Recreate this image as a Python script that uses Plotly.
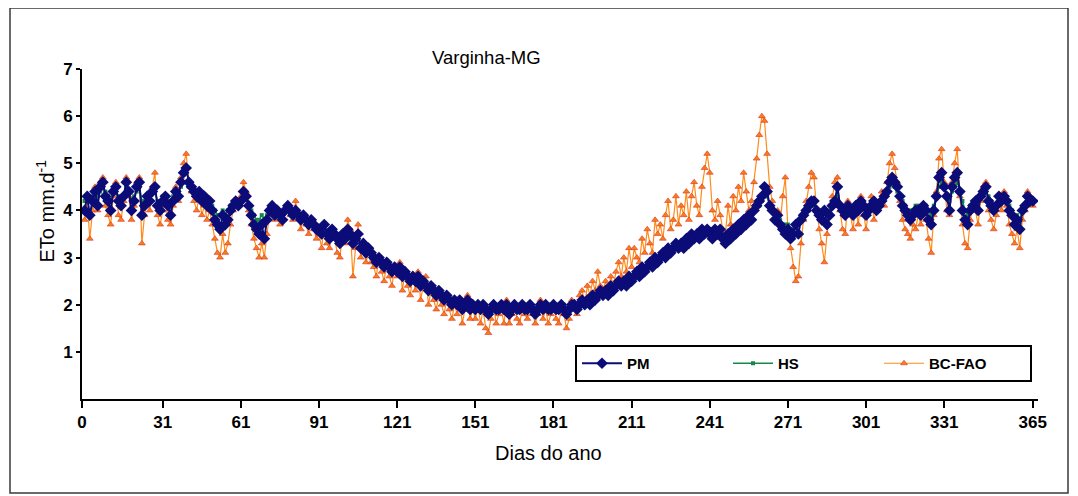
import plotly.graph_objects as go

# Daily reference evapotranspiration (mm/d), Varginha-MG, days 1..365
pm = [
    4.0, 4.3, 3.9, 4.2, 4.4, 4.1, 4.5, 4.6, 4.3, 4.2,
    4.0, 4.4, 4.5, 4.2, 4.1, 4.3, 4.6, 4.4, 4.0, 4.2,
    4.5, 4.6, 3.9, 4.1, 4.3, 4.2, 4.4, 4.5, 4.1, 4.0,
    4.2, 4.3, 4.1, 3.9, 4.2, 4.4, 4.3, 4.6, 4.8, 4.9,
    4.6, 4.5, 4.4, 4.3, 4.4, 4.2, 4.3, 4.1, 4.2, 4.0,
    3.8, 3.7, 3.6, 3.9, 3.7, 3.8, 4.0, 4.1, 4.2, 4.1,
    4.2, 4.4, 4.3, 4.1, 3.9, 3.7, 3.6, 3.5, 3.7, 3.4,
    3.8, 4.0, 4.1, 3.9, 4.0, 3.9, 3.8, 4.0, 4.1, 4.0,
    3.9, 4.0, 3.9, 3.8, 3.9, 3.8, 3.7, 3.8, 3.7, 3.6,
    3.6, 3.5, 3.7, 3.5, 3.4, 3.6, 3.5, 3.4, 3.3, 3.5,
    3.4, 3.6, 3.5, 3.3, 3.4, 3.5, 3.2, 3.3, 3.1, 3.2,
    3.1, 3.0, 2.9, 3.0, 2.9, 2.8, 2.9, 2.8, 2.7, 2.8,
    2.7, 2.8, 2.6, 2.7, 2.6, 2.5, 2.6, 2.5, 2.6, 2.4,
    2.5, 2.4, 2.3, 2.4, 2.3, 2.2, 2.3, 2.2, 2.1, 2.2,
    2.1, 2.0, 2.1, 2.0, 2.1, 1.9, 2.0, 2.1, 1.9, 2.0,
    1.9, 2.0, 1.9, 2.0, 1.9, 1.8, 1.9, 2.0, 1.9, 1.9,
    2.0, 1.9, 2.0, 1.8, 1.9, 2.0, 1.9, 1.9, 2.0, 1.9,
    1.9, 2.0, 1.9, 1.8, 1.9, 2.0, 1.9, 2.0, 1.9, 1.9,
    2.0, 1.9, 1.9, 2.0, 1.9, 1.8, 1.9, 2.0, 2.0, 1.9,
    2.0, 2.1, 2.0, 2.1, 2.0, 2.2, 2.1, 2.2, 2.3, 2.2,
    2.3, 2.2, 2.4, 2.3, 2.4, 2.5, 2.4, 2.5, 2.4, 2.6,
    2.5, 2.6, 2.7, 2.6, 2.8, 2.7, 2.8, 2.9, 2.8, 3.0,
    2.9, 3.0, 3.1, 3.0, 3.2, 3.1, 3.2, 3.3, 3.2, 3.3,
    3.2, 3.4, 3.3, 3.5, 3.4, 3.5, 3.4, 3.6, 3.5, 3.6,
    3.5, 3.4, 3.6, 3.5, 3.6, 3.4, 3.3, 3.5, 3.4, 3.6,
    3.5, 3.7, 3.6, 3.8, 3.7, 3.9, 3.8, 4.0, 4.1, 4.2,
    4.3, 4.5, 4.4, 4.1, 4.0, 3.8, 3.9, 3.7, 3.6, 3.5,
    3.6, 3.4, 3.5, 3.7, 3.5, 3.8, 3.9, 4.0, 4.1, 4.2,
    4.2, 4.0, 3.9, 3.8, 4.0, 3.7, 3.9, 4.1, 4.2, 4.5,
    4.1, 4.0, 3.9, 4.1, 4.0, 3.9, 4.1, 4.0, 4.2, 4.1,
    3.9, 4.0, 4.1, 4.2, 4.0, 4.1, 4.2, 4.3, 4.4, 4.6,
    4.7, 4.6, 4.5, 4.3, 4.1, 4.0, 3.9, 3.8, 3.9, 4.0,
    4.0, 3.9, 4.1, 4.0, 3.8, 3.7, 4.0, 4.3, 4.7, 4.8,
    4.5, 4.3, 4.0, 4.5, 4.7, 4.8, 4.4, 4.0, 3.8, 3.7,
    4.0, 4.1, 4.2, 4.0, 4.3, 4.4, 4.5, 4.2, 4.1, 4.0,
    4.1, 4.3, 4.2, 4.3, 4.2, 4.0, 3.9, 3.7, 3.8, 3.6,
    4.0, 4.1, 4.3, 4.2, 4.2,
]

hs = [
    4.2, 4.3, 4.2, 4.3, 4.4, 4.3, 4.4, 4.5, 4.4, 4.3,
    4.2, 4.4, 4.4, 4.3, 4.2, 4.3, 4.5, 4.4, 4.2, 4.3,
    4.4, 4.5, 4.2, 4.2, 4.3, 4.3, 4.4, 4.4, 4.2, 4.2,
    4.3, 4.3, 4.2, 4.1, 4.3, 4.4, 4.4, 4.5, 4.6, 4.6,
    4.5, 4.5, 4.4, 4.3, 4.3, 4.2, 4.3, 4.2, 4.2, 4.1,
    4.0, 3.9, 3.9, 4.0, 3.9, 4.0, 4.1, 4.1, 4.2, 4.2,
    4.2, 4.3, 4.3, 4.1, 4.0, 3.9, 3.8, 3.8, 3.9, 3.8,
    3.9, 4.0, 4.0, 3.9, 4.0, 3.9, 3.9, 4.0, 4.0, 4.0,
    3.9, 3.9, 3.9, 3.8, 3.8, 3.8, 3.7, 3.7, 3.7, 3.6,
    3.6, 3.5, 3.6, 3.5, 3.5, 3.5, 3.5, 3.4, 3.4, 3.4,
    3.4, 3.5, 3.4, 3.3, 3.3, 3.4, 3.2, 3.2, 3.1, 3.1,
    3.0, 3.0, 2.9, 2.9, 2.9, 2.8, 2.8, 2.8, 2.7, 2.7,
    2.7, 2.7, 2.6, 2.6, 2.6, 2.5, 2.5, 2.5, 2.5, 2.4,
    2.4, 2.4, 2.3, 2.3, 2.3, 2.2, 2.2, 2.2, 2.1, 2.1,
    2.1, 2.1, 2.0, 2.0, 2.0, 2.0, 2.0, 2.0, 2.0, 2.0,
    2.0, 2.0, 1.9, 2.0, 1.9, 1.9, 1.9, 2.0, 1.9, 2.0,
    2.0, 2.0, 2.0, 1.9, 1.9, 2.0, 2.0, 1.9, 2.0, 2.0,
    2.0, 2.0, 1.9, 1.9, 1.9, 2.0, 2.0, 2.0, 1.9, 2.0,
    2.0, 2.0, 1.9, 2.0, 2.0, 1.9, 1.9, 2.0, 2.0, 2.0,
    2.0, 2.1, 2.1, 2.1, 2.1, 2.2, 2.2, 2.2, 2.3, 2.3,
    2.3, 2.3, 2.4, 2.4, 2.4, 2.5, 2.5, 2.5, 2.5, 2.6,
    2.6, 2.6, 2.7, 2.7, 2.8, 2.8, 2.8, 2.9, 2.9, 3.0,
    3.0, 3.0, 3.1, 3.1, 3.2, 3.2, 3.2, 3.3, 3.3, 3.3,
    3.3, 3.4, 3.4, 3.5, 3.5, 3.5, 3.5, 3.6, 3.6, 3.6,
    3.6, 3.5, 3.6, 3.6, 3.6, 3.5, 3.5, 3.5, 3.5, 3.6,
    3.6, 3.7, 3.7, 3.8, 3.8, 3.9, 3.9, 4.0, 4.1, 4.1,
    4.2, 4.3, 4.3, 4.1, 4.0, 3.9, 3.9, 3.8, 3.7, 3.7,
    3.7, 3.6, 3.6, 3.7, 3.7, 3.8, 3.9, 4.0, 4.0, 4.1,
    4.1, 4.0, 4.0, 3.9, 4.0, 3.9, 4.0, 4.1, 4.1, 4.3,
    4.1, 4.1, 4.0, 4.1, 4.1, 4.0, 4.1, 4.1, 4.2, 4.1,
    4.0, 4.1, 4.1, 4.2, 4.1, 4.1, 4.2, 4.3, 4.4, 4.5,
    4.6, 4.5, 4.4, 4.3, 4.2, 4.1, 4.0, 4.0, 4.0, 4.1,
    4.1, 4.0, 4.1, 4.1, 4.0, 3.9, 4.1, 4.3, 4.5, 4.6,
    4.5, 4.3, 4.2, 4.4, 4.5, 4.6, 4.4, 4.2, 4.0, 3.9,
    4.1, 4.1, 4.2, 4.1, 4.3, 4.3, 4.4, 4.3, 4.2, 4.1,
    4.1, 4.2, 4.2, 4.3, 4.2, 4.1, 4.0, 3.9, 3.9, 3.8,
    4.0, 4.1, 4.2, 4.2, 4.2,
]

bc_fao = [
    3.8, 4.2, 3.4, 4.0, 4.5, 4.0, 4.6, 4.7, 4.1, 3.9,
    3.7, 4.3, 4.6, 3.9, 3.8, 4.2, 4.7, 4.3, 3.8, 4.1,
    4.6, 4.7, 3.3, 3.9, 4.2, 4.0, 4.5, 4.8, 3.9, 3.7,
    4.0, 4.2, 3.8, 3.7, 4.1, 4.5, 4.2, 4.7, 5.0, 5.2,
    4.6, 4.4, 4.2, 4.0, 4.3, 3.9, 4.1, 3.8, 4.0, 3.7,
    3.4, 3.1, 3.0, 3.5, 3.1, 3.3, 3.7, 4.0, 4.2, 4.1,
    4.3, 4.6, 4.4, 4.0, 3.7, 3.4, 3.2, 3.0, 3.3, 3.0,
    3.5, 3.9, 4.0, 3.8, 3.9, 3.7, 3.8, 4.0, 4.1, 3.9,
    3.8, 4.2, 3.9, 3.6, 3.9, 3.7, 3.5, 3.8, 3.6, 3.4,
    3.5, 3.2, 3.7, 3.3, 3.2, 3.6, 3.4, 3.1, 3.0, 3.5,
    3.3, 3.8, 3.6, 2.6, 3.2, 3.7, 3.0, 3.2, 2.9, 3.1,
    2.9, 2.8, 2.6, 3.0, 2.7, 2.5, 2.9, 2.6, 2.4, 2.8,
    2.6, 2.9, 2.3, 2.7, 2.4, 2.2, 2.6, 2.3, 2.7, 2.1,
    2.4, 2.6, 2.0, 2.3, 2.1, 1.9, 2.2, 2.0, 1.8, 2.1,
    1.9, 1.7, 2.0, 1.8, 2.1, 1.6, 1.9, 2.2, 1.7, 1.9,
    1.7, 2.0, 1.6, 1.9, 1.5, 1.4, 1.7, 2.0, 1.6, 1.8,
    1.9, 1.6, 2.1, 1.6, 1.8, 2.0, 1.7, 1.6, 1.9, 1.8,
    1.7, 2.0, 1.8, 1.6, 1.8, 2.1, 1.7, 1.9, 1.6, 1.8,
    2.0, 1.7, 1.6, 1.9, 1.8, 1.5, 1.7, 2.1, 2.0, 1.8,
    2.2, 2.3, 2.0, 2.4, 2.2, 2.5, 2.3, 2.7, 2.4, 2.3,
    2.5, 2.3, 2.6, 2.4, 2.7, 2.9, 2.6, 3.0, 2.7, 3.2,
    2.8, 3.2, 3.0, 2.9, 3.4, 3.1, 3.6, 3.3, 3.1, 3.8,
    3.5, 3.7, 3.4, 3.9, 4.2, 3.6, 3.8, 4.3, 3.7, 4.1,
    3.9, 4.4, 3.8, 4.3, 4.6, 4.1, 3.9, 4.5, 4.9, 5.2,
    4.8, 4.0, 3.8, 4.2, 3.9, 3.6, 3.5, 4.1, 3.7, 4.3,
    4.0, 4.5, 4.2, 4.8, 4.4, 4.0, 4.2, 4.6, 5.1, 5.6,
    6.0, 5.9, 5.2, 4.5, 4.2, 3.8, 4.0, 3.7, 4.3, 4.7,
    3.6, 3.2, 2.8, 2.5, 2.6, 3.3, 3.8, 4.2, 4.5, 4.8,
    4.7, 4.0, 3.6, 3.3, 2.9, 3.5, 3.9, 4.3, 4.6, 4.7,
    4.0, 3.6, 3.5, 4.2, 3.9, 3.6, 4.1, 3.7, 4.3, 3.9,
    3.6, 4.0, 4.3, 3.8, 4.0, 4.2, 4.4, 4.1, 4.6, 5.0,
    5.2, 4.9, 4.6, 4.2, 3.8, 3.6, 3.5, 3.4, 3.7, 3.6,
    3.9, 3.7, 4.0, 3.8, 3.4, 3.1, 3.9, 4.4, 5.1, 5.3,
    4.6, 4.0, 3.9, 4.6, 5.0, 5.3, 4.3, 3.7, 3.3, 3.2,
    3.8, 4.1, 4.0, 3.7, 4.2, 4.5, 4.6, 4.0, 3.8, 3.6,
    3.9, 4.2, 4.0, 4.4, 4.1, 3.7, 3.5, 3.3, 3.6, 3.2,
    3.8, 4.0, 4.4, 4.3, 4.1,
]

days = list(range(1, 366))
x_ticks = [0, 31, 61, 91, 121, 151, 181, 211, 241, 271, 301, 331, 365]

# page offset of the figure (browser body margin)
OFF = 8
FIG_W, FIG_H = 1078 - OFF, 496 - OFF

# plot area, given in page pixels
L, R, T, B = 82, 1038, 69, 399
W, H = R - L, B - T


def px(x):
    return (x - L) / W


def py(y):
    return (B - y) / H


fig = go.Figure()

fig.add_trace(go.Scatter(
    x=days, y=bc_fao, name="BC-FAO", mode="lines+markers", legendrank=3,
    line=dict(color="#ff8c1a", width=1.2),
    marker=dict(symbol="triangle-up", size=6, color="#f57f17",
                line=dict(color="#e0302a", width=0.6)),
))
fig.add_trace(go.Scatter(
    x=days, y=hs, name="HS", mode="lines+markers", legendrank=2,
    line=dict(color="#16884a", width=1.5),
    marker=dict(symbol="square", size=4, color="#16884a"),
))
fig.add_trace(go.Scatter(
    x=days, y=pm, name="PM", mode="lines+markers", legendrank=1,
    line=dict(color="#0c0c78", width=2),
    marker=dict(symbol="diamond", size=9, color="#0c0c78"),
))

bold = dict(family="Liberation Sans Narrow, Liberation Sans, Arial", size=17,
            color="black", weight="bold")

fig.update_xaxes(
    range=[0, 367], tickvals=x_ticks, ticks="outside", ticklen=7, tickwidth=2,
    tickcolor="black", showline=True, linecolor="black", linewidth=2,
    showgrid=False, zeroline=False, tickfont=bold,
)
fig.update_yaxes(
    range=[0, 7], tickvals=[1, 2, 3, 4, 5, 6, 7], ticks="outside", ticklen=4,
    tickwidth=2, tickcolor="black", showline=True, linecolor="black",
    linewidth=2, showgrid=False, zeroline=False, tickfont=bold,
)

plain = dict(family="Liberation Sans, Arial", color="black")

fig.update_layout(
    width=FIG_W, height=FIG_H,
    margin=dict(l=L - OFF, r=FIG_W - (R - OFF), t=T - OFF,
                b=FIG_H - (B - OFF), autoexpand=False),
    paper_bgcolor="white", plot_bgcolor="white",
    legend=dict(
        orientation="h", x=px(575), y=py(345), xanchor="left", yanchor="top",
        bordercolor="black", borderwidth=2, bgcolor="white",
        entrywidth=96, itemwidth=40,
        font=dict(family="Liberation Sans, Arial", size=15, color="black",
                  weight="bold"),
    ),
    annotations=[
        dict(text="Varginha-MG", x=px(486), y=py(45), xref="paper",
             yref="paper", showarrow=False, font=dict(size=18.5, **plain)),
        dict(text="Dias do ano", x=px(548), y=py(466), xref="paper",
             yref="paper", showarrow=False, font=dict(size=20, **plain)),
        dict(text="ETo mm.d<sup>-1</sup>", x=px(30), y=py(211), xref="paper",
             yref="paper", showarrow=False, textangle=-90,
             font=dict(size=20, **plain)),
    ],
    shapes=[
        dict(type="rect", xref="paper", yref="paper",
             x0=px(10), x1=px(1068), y0=py(493), y1=py(8),
             line=dict(color="#3a3a3a", width=1.5)),
    ],
)

fig.write_html("out.html")
